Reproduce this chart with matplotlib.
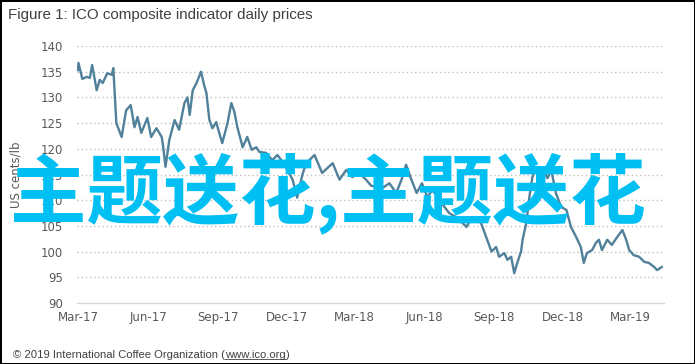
import matplotlib
matplotlib.use("Agg")
import matplotlib.pyplot as plt
import pandas as pd

dates = [
    "2017-02-28", "2017-03-01", "2017-03-06", "2017-03-12", "2017-03-16", "2017-03-19",
    "2017-03-25", "2017-03-29", "2017-04-02", "2017-04-08", "2017-04-14", "2017-04-16",
    "2017-04-20", "2017-04-27", "2017-05-03", "2017-05-09", "2017-05-14", "2017-05-18",
    "2017-05-23", "2017-05-31", "2017-06-05", "2017-06-12", "2017-06-19", "2017-06-21",
    "2017-06-24", "2017-06-29", "2017-07-06", "2017-07-12", "2017-07-19", "2017-07-23",
    "2017-07-26", "2017-07-30", "2017-08-04", "2017-08-10", "2017-08-14", "2017-08-17",
    "2017-08-21", "2017-08-25", "2017-08-30", "2017-09-03", "2017-09-07", "2017-09-14",
    "2017-09-19", "2017-09-23", "2017-09-27", "2017-10-04", "2017-10-10", "2017-10-16",
    "2017-10-22", "2017-10-26", "2017-11-04", "2017-11-12", "2017-11-19", "2017-11-28",
    "2017-12-09", "2017-12-15", "2017-12-22", "2017-12-27", "2018-01-07", "2018-01-17",
    "2018-01-31", "2018-02-09", "2018-02-18", "2018-02-26", "2018-03-07", "2018-03-16",
    "2018-03-23", "2018-04-07", "2018-04-16", "2018-04-25", "2018-05-02", "2018-05-08",
    "2018-05-15", "2018-05-22", "2018-05-29", "2018-06-05", "2018-06-12", "2018-06-21",
    "2018-07-04", "2018-07-15", "2018-07-27", "2018-08-03", "2018-08-15", "2018-08-22",
    "2018-08-29", "2018-09-04", "2018-09-08", "2018-09-15", "2018-09-19", "2018-09-24",
    "2018-09-28", "2018-10-02", "2018-10-07", "2018-10-09", "2018-10-14", "2018-10-18",
    "2018-10-22", "2018-10-27", "2018-10-31", "2018-11-04", "2018-11-11", "2018-11-16",
    "2018-11-22", "2018-11-29", "2018-12-06", "2018-12-12", "2018-12-19", "2018-12-25",
    "2018-12-29", "2019-01-02", "2019-01-09", "2019-01-14", "2019-01-18", "2019-01-22",
    "2019-01-29", "2019-02-04", "2019-02-11", "2019-02-18", "2019-02-23", "2019-02-27",
    "2019-03-05", "2019-03-12", "2019-03-19", "2019-03-25", "2019-04-01", "2019-04-05",
    "2019-04-11",
]

prices = [
    135.3, 136.7, 133.6, 134.0, 133.8, 136.3,
    131.4, 133.4, 132.8, 134.7, 134.4, 135.7,
    125.0, 122.3, 127.5, 128.5, 124.2, 126.2,
    123.1, 126.0, 122.3, 124.0, 122.3, 120.3,
    116.5, 121.7, 125.6, 123.7, 128.9, 130.0,
    126.6, 131.4, 132.8, 135.0, 132.4, 130.9,
    125.6, 124.0, 125.2, 123.1, 121.1, 125.0,
    128.9, 127.2, 124.2, 120.3, 122.3, 119.8,
    120.3, 119.4, 119.2, 117.8, 118.8, 117.0,
    114.0, 110.5, 115.0, 117.2, 118.8, 115.3,
    117.2, 114.0, 115.9, 114.5, 115.3, 114.0,
    112.8, 112.4, 113.3, 111.4, 114.0, 116.9,
    114.0, 111.4, 113.3, 110.6, 112.0, 110.0,
    107.5, 106.5, 104.8, 106.7, 105.6, 102.8,
    100.0, 100.9, 99.0, 99.7, 98.4, 99.0,
    95.8, 97.8, 100.0, 102.3, 105.6, 110.6,
    114.5, 116.5, 114.5, 116.3, 114.3, 115.9,
    111.4, 108.7, 108.1, 104.8, 102.8, 100.9,
    97.8, 99.7, 100.3, 101.7, 102.3, 100.3,
    102.3, 101.3, 102.8, 104.2, 102.3, 100.3,
    99.3, 99.0, 98.0, 97.8, 97.0, 96.4,
    97.0,
]

tick_dates = ["2017-03-01", "2017-06-01", "2017-09-01", "2017-12-01", "2018-03-01",
              "2018-06-01", "2018-09-01", "2018-12-01", "2019-03-01"]
tick_labels = ["Mar-17", "Jun-17", "Sep-17", "Dec-17", "Mar-18",
               "Jun-18", "Sep-18", "Dec-18", "Mar-19"]
y_ticks = [90, 95, 100, 105, 110, 115, 120, 125, 130, 135, 140]

title = "Figure 1: ICO composite indicator daily prices"
y_label = "US cents/lb"
footer_pre = "\u00a9 2019 International Coffee Organization ("
footer_link = "www.ico.org"
footer_post = ")"
watermark = "主题送花,主题送花"

x = pd.to_datetime(dates)

fig = plt.figure(figsize=(6.95, 3.64), dpi=100)
fig.patch.set_facecolor("white")
fig.patch.set_edgecolor("black")
fig.patch.set_linewidth(2.0)

ax = fig.add_axes([0.1108, 0.1676, 0.8446, 0.706])
ax.plot(x, prices, color="#50809A", linewidth=1.7, solid_joinstyle="round")

ax.set_ylim(90, 140)
ax.set_yticks(y_ticks)
ax.set_xlim(pd.Timestamp("2017-02-27"), pd.Timestamp("2019-04-14"))
ax.set_xticks(pd.to_datetime(tick_dates))
ax.set_xticklabels(tick_labels)

for s in ["top", "right", "left"]:
    ax.spines[s].set_visible(False)
ax.spines["bottom"].set_color("#D9D9D9")
ax.spines["bottom"].set_linewidth(1.0)
ax.tick_params(axis="both", length=0, labelsize=8.5, colors="#595959", pad=6)
ax.tick_params(axis="y", pad=10)
ax.yaxis.grid(True, color="#BFBFBF", linestyle=(0, (1, 2)), linewidth=1.0)
ax.set_axisbelow(True)
ax.set_ylabel(y_label, fontsize=8.5, color="#595959")
ax.yaxis.set_label_coords(-(77 - 22) / 587, 0.5)

fig.text(8 / 695, 1 - 15 / 364, title, fontsize=10.9, color="#404040",
         ha="left", va="center", family="Liberation Sans")

# footer
fs = 8.1
fy = 1 - 355 / 364
fig.canvas.draw()
r = fig.canvas.get_renderer()
t1 = fig.text(13 / 695, fy, footer_pre, fontsize=fs, color="#404040",
              ha="left", va="center", family="Liberation Sans")
bb1 = t1.get_window_extent(renderer=r)
t2 = fig.text(bb1.x1 / fig.bbox.width, fy, footer_link, fontsize=fs, color="#404040",
              ha="left", va="center", family="Liberation Sans")
bb2 = t2.get_window_extent(renderer=r)
fig.add_artist(plt.Line2D([bb2.x0 / fig.bbox.width, bb2.x1 / fig.bbox.width],
                          [(bb2.y0 + 1) / fig.bbox.height] * 2,
                          color="#404040", linewidth=0.6, transform=fig.transFigure))
fig.text(bb2.x1 / fig.bbox.width, fy, footer_post, fontsize=fs, color="#404040",
         ha="left", va="center", family="Liberation Sans")

fig.text(328 / 695, 1 - 193 / 364, watermark, fontsize=55, color="#00BFF3",
         ha="center", va="center", family=["Noto Sans CJK SC", "DejaVu Sans"],
         fontweight="bold")

fig.savefig("out.png", dpi=100)
